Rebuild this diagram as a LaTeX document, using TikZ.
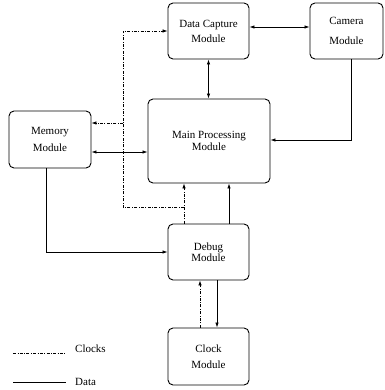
\documentclass[tikz,border=0pt]{standalone}
\usepackage{fontspec}
\setmainfont{Liberation Serif}
\usetikzlibrary{arrows.meta}
\begin{document}
\begin{tikzpicture}[x=1pt,y=-1pt,
  box/.style={draw, rounded corners=5pt, line width=0.9pt, align=center, inner sep=0pt},
  data/.style={line width=0.8pt},
  clk/.style={line width=0.7pt, dash pattern=on 3pt off 1.5pt on 0.7pt off 1.5pt},
  tip/.style={-{Latex[length=5pt,width=3.5pt]}},
  tips/.style={{Latex[length=5pt,width=3.5pt]}-{Latex[length=5pt,width=3.5pt]}},
  lbl/.style={font=\fontsize{11}{13}\selectfont, inner sep=0pt, anchor=base west}
  ]
\useasboundingbox (0,0) rectangle (384,390);
\node[box, minimum width=81pt, minimum height=56pt, font=\fontsize{11}{15}\selectfont] (dc) at (208.5,31) {Data Capture\\Module};
\node[box, minimum width=73pt, minimum height=56pt, font=\fontsize{11}{20}\selectfont] (cam) at (346.5,31) {Camera\\Module};
\node[box, minimum width=122pt, minimum height=84pt, font=\fontsize{11}{12.5}\selectfont] (main) at (209,141) {Main Processing\\Module};
\node[box, minimum width=82pt, minimum height=57pt, font=\fontsize{11}{17}\selectfont] (mem) at (50,139.5) {Memory\\Module};
\node[box, minimum width=81pt, minimum height=56pt, font=\fontsize{11}{11.5}\selectfont] (dbg) at (208.5,252) {Debug\\Module};
\node[box, minimum width=81pt, minimum height=57pt, font=\fontsize{11}{16}\selectfont] (clk) at (208.5,356.5) {Clock\\Module};

% data connectors
\draw[data,tips] (dc.east |- {(0,27)}) -- (cam.west |- {(0,27)});
\draw[data,tips] (dc.south) -- (dc.south |- main.north);
\draw[data,tip] (cam.south -| {(351,0)}) |- (main.east |- {(0,140)});
\draw[data,tips] (mem.east |- {(0,152)}) -- (main.west |- {(0,152)});
\draw[data,tip] (mem.south -| {(46,0)}) |- (dbg.west |- {(0,252)});
\draw[data,tip] (dbg.north -| {(229,0)}) -- (main.south -| {(229,0)});
\draw[data,tip] (dbg.south -| {(217,0)}) -- (clk.north -| {(217,0)});

% clock connectors
\coordinate (j1) at (184,207);
\coordinate (j2) at (123,123);
\draw[clk,tip] (dbg.north -| j1) -- (main.south -| j1);
\draw[clk,tip] (j1) -| (j2) |- (dc.west |- {(0,31)});
\draw[clk,tip] (j2) -- (mem.east |- j2);
\draw[clk,tip] (clk.north -| {(200,0)}) -- (dbg.south -| {(200,0)});

% legend
\coordinate (l1a) at (13,353);
\coordinate (l1b) at (66,353);
\coordinate (l2a) at (13,382);
\coordinate (l2b) at (66,382);
\draw[clk] (l1a) -- (l1b);
\draw[data] (l2a) -- (l2b);
\node[lbl] (lc) at (75,352) {Clocks};
\node[lbl] (ld) at (75,385) {Data};
\end{tikzpicture}
\end{document}
